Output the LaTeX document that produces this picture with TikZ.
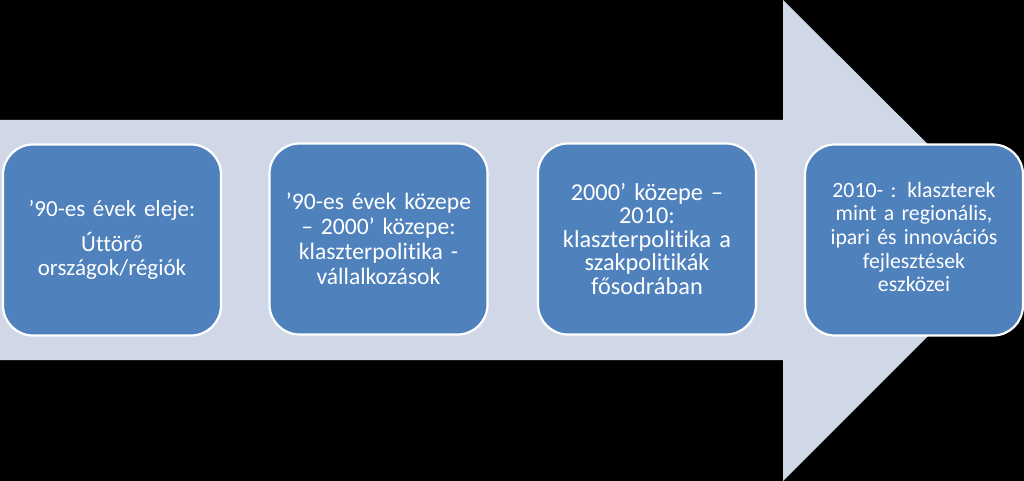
\documentclass[tikz,border=0pt]{standalone}
\usepackage{fontspec}
\setmainfont{Carlito}[Ligatures=NoCommon]
\definecolor{lav}{RGB}{208,216,232}
\definecolor{boxblue}{RGB}{79,129,189}
\begin{document}
\begin{tikzpicture}[x=1pt,y=-1pt,
  stage/.style={draw=white,line width=2.2pt,fill=boxblue,rounded corners=30pt,
    minimum width=218pt,minimum height=191pt,text width=216pt,align=center,
    text=white,inner sep=0pt}]
\fill[black] (0,0) rectangle (1024,481);
\useasboundingbox (0,0) rectangle (1024,481);
\fill[lav] (0,120) -- (783,120) -- (783,0) -- (1024,240) -- (783,481) -- (783,360) -- (0,360) -- cycle;
\node[stage,font=\fontsize{23}{24}\selectfont] (s1) at (112,240) {’90-es évek eleje:\\[11pt] Úttörő\\ országok/régiók};
\node[stage,font=\fontsize{23.6}{25}\selectfont] (s2) at (378.5,239) {’90-es évek közepe\\ – 2000’ közepe:\\ klaszterpolitika -\\ vállalkozások};
\node[stage,font=\fontsize{24.3}{23.5}\selectfont] (s3) at (647,239) {2000’ közepe –\\ 2010:\\ klaszterpolitika a\\ szakpolitikák\\ fősodrában};
\node[stage,font=\fontsize{21.8}{23.6}\selectfont] (s4) at (914,240) {2010- : klaszterek\\ mint a regionális,\\ ipari és innovációs\\ fejlesztések\\ eszközei\par\vspace{6pt}};
\end{tikzpicture}
\end{document}
